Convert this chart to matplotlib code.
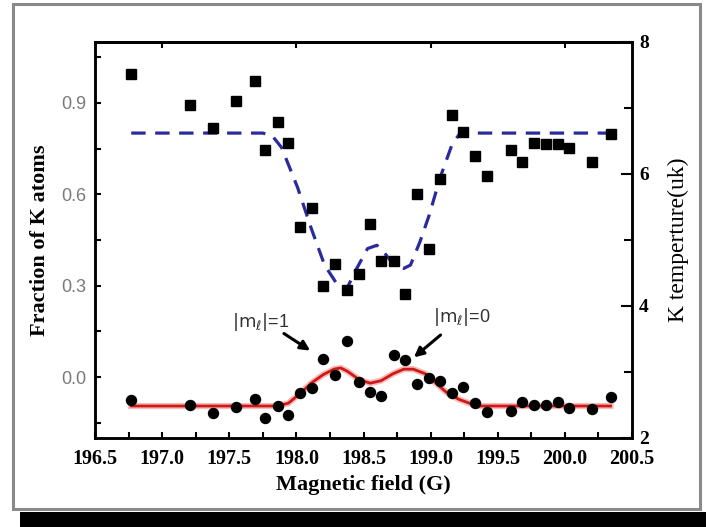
import matplotlib
matplotlib.use("Agg")
import matplotlib.pyplot as plt
from matplotlib.patches import Rectangle
from matplotlib.ticker import MultipleLocator, FixedLocator

# Measured points: magnetic field (G)
field = [196.77, 197.21, 197.38, 197.55, 197.69, 197.77, 197.86, 197.94, 198.03,
         198.12, 198.20, 198.29, 198.38, 198.47, 198.55, 198.63, 198.73, 198.81,
         198.90, 198.99, 199.07, 199.16, 199.24, 199.33, 199.42, 199.60, 199.68,
         199.77, 199.86, 199.95, 200.03, 200.20, 200.34]

# K temperature (uK), squares, right axis
temperature = [7.52, 7.05, 6.69, 7.11, 7.41, 6.36, 6.79, 6.47, 5.20, 5.48, 4.30,
               4.64, 4.25, 4.49, 5.25, 4.68, 4.68, 4.18, 5.69, 4.87, 5.93, 6.89,
               6.63, 6.27, 5.97, 6.36, 6.18, 6.47, 6.46, 6.45, 6.40, 6.18, 6.61]

# Fraction of K atoms, circles, left axis
fraction = [-0.075, -0.092, -0.117, -0.097, -0.073, -0.133, -0.095, -0.125, -0.051,
            -0.036, 0.060, 0.006, 0.120, -0.017, -0.049, -0.062, 0.073, 0.057,
            -0.023, -0.003, -0.014, -0.051, -0.031, -0.086, -0.116, -0.110, -0.083,
            -0.092, -0.092, -0.083, -0.100, -0.106, -0.066]

# Fitted temperature curve (dashed)
temp_fit_field = [196.77, 197.75, 197.82, 197.89, 198.01, 198.11, 198.21, 198.30,
                  198.37, 198.45, 198.53, 198.60, 198.65, 198.72, 198.80, 198.85,
                  198.92, 198.99, 199.07, 199.16, 199.22, 200.34]
temp_fit = [6.62, 6.62, 6.58, 6.40, 5.79, 5.18, 4.62, 4.34, 4.24, 4.57, 4.87,
            4.92, 4.82, 4.64, 4.57, 4.62, 4.97, 5.38, 5.94, 6.45, 6.62, 6.62]

# Fitted fraction curve (solid red)
frac_fit_field = [196.77, 197.85, 197.94, 198.03, 198.11, 198.20, 198.28, 198.33,
                  198.38, 198.47, 198.55, 198.63, 198.72, 198.80, 198.87, 198.96,
                  199.04, 199.12, 199.21, 199.29, 199.36, 200.34]
frac_fit = [-0.095, -0.095, -0.086, -0.053, -0.020, 0.008, 0.026, 0.030, 0.019,
            -0.009, -0.020, -0.012, 0.011, 0.026, 0.026, 0.011, -0.020, -0.051,
            -0.073, -0.086, -0.095, -0.095]

x_ticks = [196.5, 197.0, 197.5, 198.0, 198.5, 199.0, 199.5, 200.0, 200.5]
x_tick_labels = ["196.5", "197.0", "197.5", "198.0", "198.5", "199.0", "199.5", "200.0", "200.5"]
left_ticks = [0.0, 0.3, 0.6, 0.9]
left_tick_labels = ["0.0", "0.3", "0.6", "0.9"]
right_ticks = [2, 4, 6, 8]
right_tick_labels = ["2", "4", "6", "8"]

SERIF = "Liberation Serif"
SANS = "Liberation Sans"

fig = plt.figure(figsize=(7.06, 5.27), dpi=100)
fig.patch.set_facecolor("white")

# page frame and shadow band
fig.patches.append(Rectangle((20 / 706, 0), 686 / 706, 15 / 527, transform=fig.transFigure,
                             facecolor="black", edgecolor="none", zorder=0))
fig.patches.append(Rectangle((13 / 706, 18 / 527), 687 / 706, 505 / 527, transform=fig.transFigure,
                             facecolor="none", edgecolor="#8a8a8a", lw=2.2, zorder=0))

ax = fig.add_axes([95 / 706, 1 - 438 / 527, 537 / 706, 396 / 527])
ax2 = ax.twinx()

# fraction data and fit
ax.plot(frac_fit_field, frac_fit, color="#f2a0a0", lw=4.5, alpha=0.7, zorder=2)
ax.plot(frac_fit_field, frac_fit, color="#d01818", lw=2.0, zorder=3)
ax.plot(field, fraction, "o", color="black", ms=7.2, zorder=4)

# temperature data and fit
ax2.plot(temp_fit_field, temp_fit, color="#2a2a9c", lw=2.3, dashes=(4.5, 3.0), zorder=2)
ax2.plot(field, temperature, "s", color="black", ms=7, zorder=3)

ax.set_xlim(196.5, 200.5)
ax.set_ylim(-0.2, 1.1)
ax2.set_ylim(2, 8)

ax.xaxis.set_major_locator(FixedLocator(x_ticks))
ax.set_xticklabels(x_tick_labels, fontfamily=SERIF, fontweight="bold", fontsize=14.5)
ax.xaxis.set_minor_locator(MultipleLocator(0.25))
ax.yaxis.set_major_locator(FixedLocator(left_ticks))
ax.set_yticklabels(left_tick_labels, fontfamily=SANS, fontsize=13, color="#7a7a7a")
ax.yaxis.set_minor_locator(MultipleLocator(0.15))
ax2.yaxis.set_major_locator(FixedLocator(right_ticks))
ax2.set_yticklabels(right_tick_labels, fontfamily=SERIF, fontweight="bold", fontsize=14)
ax2.yaxis.set_minor_locator(MultipleLocator(1))

ax.tick_params(axis="x", which="both", direction="in", top=False, length=4, width=1.5, pad=8)
ax.tick_params(axis="y", which="both", direction="in", length=4, width=1.5, pad=6)
ax2.tick_params(axis="y", which="major", direction="in", length=8, width=1.5, pad=5)
ax2.tick_params(axis="y", which="minor", direction="in", length=6, width=1.5)

top = ax.secondary_xaxis("top")
top.xaxis.set_major_locator(FixedLocator([197.0, 198.0, 199.0, 200.0]))
top.tick_params(direction="in", length=4, width=1.5, labeltop=False)

for a in (ax, ax2, top):
    for s in a.spines.values():
        s.set_linewidth(1.8)

ax.set_xlabel("Magnetic field (G)", fontfamily=SERIF, fontweight="bold", fontsize=16, labelpad=4)
ax.set_ylabel("Fraction of K atoms", fontfamily=SERIF, fontweight="bold", fontsize=16, labelpad=8)
ax2.set_ylabel("K temperture(uk)", fontfamily=SERIF, fontsize=17, labelpad=14)

# level labels with arrows
ax.text(197.73, 0.18, r"$|\mathrm{m}_{\ell}|$=1", fontfamily=SANS, fontsize=13,
        color="#333333", ha="center", va="center")
ax.annotate("", xy=(198.12, 0.082), xytext=(197.89, 0.148),
            arrowprops=dict(arrowstyle="-|>", lw=2.2, color="black", mutation_scale=14))
ax.text(199.23, 0.197, r"$|\mathrm{m}_{\ell}|$=0", fontfamily=SANS, fontsize=13,
        color="#333333", ha="center", va="center")
ax.annotate("", xy=(198.86, 0.059), xytext=(199.09, 0.144),
            arrowprops=dict(arrowstyle="-|>", lw=2.2, color="black", mutation_scale=14))

fig.savefig("out.png", dpi=100)
